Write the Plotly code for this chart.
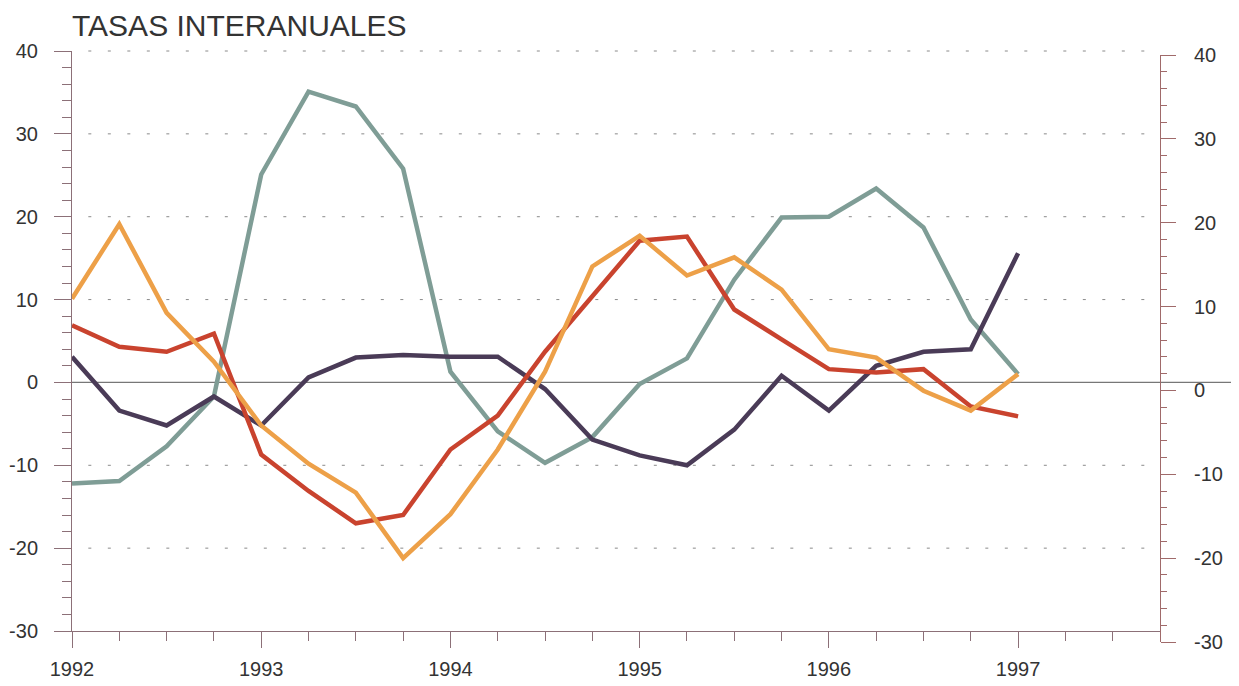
import plotly.graph_objects as go

# Quarterly observations (decimal years)
quarters = [1992.0, 1992.25, 1992.5, 1992.75, 1993.0, 1993.25, 1993.5, 1993.75,
            1994.0, 1994.25, 1994.5, 1994.75, 1995.0, 1995.25, 1995.5, 1995.75,
            1996.0, 1996.25, 1996.5, 1996.75, 1997.0]

serie_oscura = [3.1, -3.4, -5.2, -1.7, -5.2, 0.6, 3.0, 3.3, 3.1, 3.1, -0.8,
                -6.9, -8.8, -10.0, -5.7, 0.8, -3.4, 2.0, 3.7, 4.0, 15.6]
serie_roja = [6.9, 4.3, 3.7, 5.9, -8.7, -13.1, -17.0, -16.0, -8.1, -4.0, 3.7,
              10.5, 17.1, 17.6, 8.8, 5.2, 1.6, 1.2, 1.6, -2.9, -4.1]
serie_naranja = [10.1, 19.1, 8.4, 2.5, -5.2, -9.8, -13.3, -21.2, -15.9, -8.1, 1.3,
                 14.0, 17.7, 12.9, 15.1, 11.2, 4.0, 3.0, -1.0, -3.4, 1.0]
serie_verde = [-12.2, -11.9, -7.7, -1.7, 25.1, 35.1, 33.3, 25.8, 1.3, -5.9, -9.7,
               -6.6, -0.2, 2.9, 12.4, 19.9, 20.0, 23.4, 18.7, 7.6, 1.0]

year_ticks = [1992, 1993, 1994, 1995, 1996, 1997]
y_ticks = [40, 30, 20, 10, 0, -10, -20, -30]
y_labels = ["40", "30", "20", "10", "0", "-10", "-20", "-30"]
grid_levels = [40, 30, 20, 10, -10, -20]

# page offset of 8px (body margin) compensated in the margins
OFF = 8
W, H = 1239, 686
ML = 72 - OFF
MT = 51 - OFF
MR = W - (1160 - OFF)
MB = H - (642 - OFF)
plot_w = W - ML - MR
plot_h = H - MT - MB
main_bottom = (642 - 631) / plot_h
right_top = 1 - 4 / plot_h

axis_col = "#8c7078"
font = "Liberation Sans, Arial, sans-serif"

fig = go.Figure()
series = [
    (serie_verde, "#7f9d96"),
    (serie_oscura, "#4a3b57"),
    (serie_roja, "#c9432e"),
    (serie_naranja, "#eda048"),
]
for vals, col in series:
    fig.add_trace(go.Scatter(x=quarters, y=vals, mode="lines",
                             line=dict(color=col, width=4.5), showlegend=False,
                             hoverinfo="skip"))

# dummy trace for the right-hand axis subplot
fig.add_trace(go.Scatter(x=[None], y=[None], xaxis="x2", yaxis="y2",
                         showlegend=False, hoverinfo="skip"))


def yfrac(v):
    return main_bottom + (1 - main_bottom) * (v + 30) / 70


# dotted grid lines
for g in grid_levels:
    fig.add_shape(type="line", xref="paper", yref="paper", x0=0.015, x1=0.995,
                  y0=yfrac(g), y1=yfrac(g),
                  line=dict(color="#8a8a8a", width=1, dash="3px,16.5px"), layer="below")

# zero line spanning across to the right edge
fig.add_shape(type="line", xref="paper", yref="paper", x0=0, x1=(W - OFF - ML) / plot_w,
              y0=yfrac(0), y1=yfrac(0), line=dict(color="#777777", width=1.2), layer="below")

fig.update_layout(
    width=W, height=H,
    margin=dict(l=ML, r=MR, t=MT, b=MB),
    paper_bgcolor="white", plot_bgcolor="rgba(0,0,0,0)",
    font=dict(family=font, size=20, color="#333333"),
    title=dict(text="TASAS INTERANUALES", x=ML / W, xanchor="left", y=1 - (25 - OFF) / H,
               yanchor="middle", font=dict(family=font, size=30, color="#333333")),
    xaxis=dict(range=[1992, 1997.75], domain=[0, 1], anchor="y", automargin=False,
               tickvals=year_ticks, ticktext=[str(y) for y in year_ticks],
               ticks="outside", ticklen=16, tickcolor=axis_col, tickwidth=1,
               minor=dict(dtick=0.25, tick0=1992, ticks="outside", ticklen=9,
                          tickcolor=axis_col, showgrid=False),
               showline=True, linecolor=axis_col, linewidth=1,
               showgrid=False, zeroline=False, ticklabelstandoff=4),
    yaxis=dict(range=[-30, 40], domain=[main_bottom, 1], anchor="x", automargin=False,
               tickvals=y_ticks, ticktext=y_labels, ticks="outside", ticklen=17,
               tickcolor=axis_col,
               minor=dict(dtick=2, tick0=0, ticks="outside", ticklen=9,
                          tickcolor=axis_col, showgrid=False),
               showline=True, linecolor=axis_col, linewidth=1,
               showgrid=False, zeroline=False, ticklabelstandoff=12),
    xaxis2=dict(range=[1992, 1997.75], domain=[0, 1], anchor="y2", visible=False),
    yaxis2=dict(range=[-30, 40], domain=[0, right_top], anchor="x2", side="right",
                automargin=False,
                tickvals=y_ticks, ticktext=y_labels, ticks="outside", ticklen=15,
                tickcolor="#a06a6a",
                minor=dict(dtick=2, tick0=0, ticks="outside", ticklen=6,
                           tickcolor="#a06a6a", showgrid=False),
                showline=True, linecolor="#a06a6a", linewidth=1,
                showgrid=False, zeroline=False, ticklabelstandoff=14),
)

fig.write_html("out.html")
